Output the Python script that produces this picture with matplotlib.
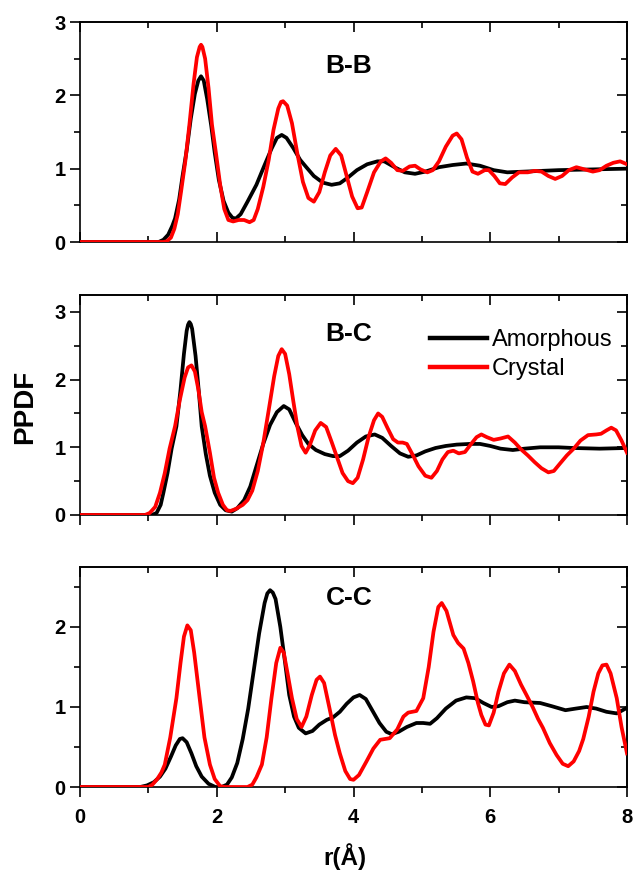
import matplotlib

matplotlib.use("Agg")
import matplotlib.pyplot as plt
from matplotlib.ticker import MultipleLocator, NullFormatter


# values, r in Angstrom
BB_AMORPH_R = [0, 1.0, 1.15, 1.22, 1.29, 1.35, 1.39, 1.45, 1.50, 1.56, 1.62, 1.68, 1.73, 1.77, 1.81,
               1.86, 1.92, 1.97, 2.03, 2.10, 2.17, 2.23, 2.28, 2.35, 2.45, 2.58, 2.70, 2.80, 2.88,
               2.95, 3.02, 3.12, 3.22, 3.31, 3.42, 3.55, 3.68, 3.80, 3.92, 4.05, 4.20, 4.35, 4.45,
               4.60, 4.75, 4.90, 5.05, 5.25, 5.45, 5.65, 5.85, 6.05, 6.25, 6.5, 7.0, 7.5, 8.0]
BB_AMORPH_G = [0, 0, 0, 0.03, 0.10, 0.22, 0.32, 0.58, 0.90, 1.25, 1.68, 2.02, 2.20, 2.26, 2.20,
               1.95, 1.58, 1.22, 0.85, 0.56, 0.40, 0.33, 0.32, 0.38, 0.55, 0.78, 1.05, 1.27, 1.42,
               1.46, 1.42, 1.28, 1.12, 1.02, 0.90, 0.81, 0.78, 0.80, 0.88, 0.98, 1.06, 1.10, 1.10,
               1.02, 0.95, 0.93, 0.96, 1.02, 1.05, 1.07, 1.04, 0.98, 0.95, 0.96, 0.98, 0.99, 1.0]

BB_CRYST_R = [0, 1.22, 1.27, 1.33, 1.38, 1.43, 1.48, 1.54, 1.60, 1.66, 1.71, 1.75, 1.77, 1.79, 1.83,
              1.88, 1.93, 1.99, 2.05, 2.11, 2.17, 2.24, 2.32, 2.40, 2.48, 2.54, 2.60, 2.68, 2.76,
              2.83, 2.90, 2.94, 2.97, 3.03, 3.10, 3.18, 3.26, 3.34, 3.42, 3.50, 3.58, 3.66, 3.74,
              3.82, 3.90, 3.98, 4.06, 4.12, 4.20, 4.30, 4.40, 4.47, 4.55, 4.64, 4.72, 4.82, 4.90,
              4.98, 5.08, 5.16, 5.25, 5.35, 5.45, 5.51, 5.58, 5.66, 5.74, 5.82, 5.92, 5.98, 6.06,
              6.14, 6.22, 6.32, 6.42, 6.55, 6.65, 6.75, 6.85, 6.95, 7.05, 7.15, 7.26, 7.38, 7.50,
              7.60, 7.70, 7.80, 7.90, 8.0]
BB_CRYST_G = [0, 0, 0.01, 0.06, 0.18, 0.38, 0.70, 1.10, 1.60, 2.15, 2.52, 2.66, 2.69, 2.66, 2.50,
              2.10, 1.60, 1.20, 0.78, 0.45, 0.30, 0.28, 0.30, 0.30, 0.27, 0.30, 0.45, 0.75, 1.12,
              1.53, 1.82, 1.91, 1.92, 1.86, 1.62, 1.20, 0.82, 0.60, 0.55, 0.68, 0.95, 1.18, 1.27,
              1.18, 0.90, 0.62, 0.46, 0.47, 0.68, 0.95, 1.10, 1.14, 1.08, 0.98, 0.97, 1.03, 1.04,
              0.99, 0.95, 0.98, 1.10, 1.30, 1.45, 1.48, 1.40, 1.15, 0.96, 0.93, 0.98, 0.98, 0.90,
              0.80, 0.79, 0.88, 0.95, 0.95, 0.97, 0.96, 0.90, 0.86, 0.90, 0.98, 1.02, 0.99, 0.96,
              0.98, 1.04, 1.08, 1.10, 1.06]

BC_AMORPH_R = [0, 1.05, 1.12, 1.18, 1.22, 1.28, 1.34, 1.41, 1.47, 1.52, 1.56, 1.58, 1.60, 1.62,
               1.64, 1.69, 1.74, 1.78, 1.84, 1.90, 1.97, 2.05, 2.13, 2.22, 2.30, 2.40, 2.49, 2.58,
               2.68, 2.78, 2.88, 2.98, 3.06, 3.16, 3.25, 3.34, 3.45, 3.58, 3.70, 3.80, 3.92, 4.05,
               4.18, 4.31, 4.42, 4.55, 4.68, 4.80, 4.92, 5.05, 5.20, 5.35, 5.51, 5.70, 5.85, 6.00,
               6.15, 6.33, 6.50, 6.73, 7.00, 7.21, 7.60, 8.00]
BC_AMORPH_G = [0, 0, 0.03, 0.15, 0.33, 0.62, 0.98, 1.31, 1.85, 2.38, 2.72, 2.81, 2.85, 2.82,
               2.75, 2.35, 1.80, 1.31, 0.90, 0.58, 0.33, 0.15, 0.07, 0.05, 0.10, 0.22, 0.42, 0.72,
               1.05, 1.33, 1.52, 1.61, 1.56, 1.35, 1.18, 1.05, 0.96, 0.90, 0.87, 0.87, 0.95, 1.07,
               1.16, 1.19, 1.14, 1.02, 0.91, 0.86, 0.88, 0.94, 0.99, 1.02, 1.04, 1.05, 1.05, 1.02,
               0.98, 0.96, 0.98, 1.00, 1.00, 0.99, 0.98, 0.99]

BC_CRYST_R = [0, 0.95, 1.02, 1.10, 1.17, 1.24, 1.31, 1.39, 1.46, 1.53, 1.58, 1.63, 1.68, 1.73,
              1.78, 1.83, 1.90, 1.96, 2.02, 2.09, 2.15, 2.20, 2.28, 2.38, 2.45, 2.52, 2.60, 2.68,
              2.76, 2.84, 2.90, 2.95, 3.00, 3.06, 3.12, 3.18, 3.24, 3.30, 3.36, 3.44, 3.52, 3.60,
              3.68, 3.76, 3.84, 3.92, 3.99, 4.06, 4.14, 4.22, 4.30, 4.36, 4.42, 4.50, 4.58, 4.65,
              4.72, 4.78, 4.86, 4.95, 5.05, 5.14, 5.22, 5.30, 5.38, 5.46, 5.54, 5.63, 5.72, 5.80,
              5.87, 5.95, 6.05, 6.15, 6.26, 6.36, 6.45, 6.55, 6.65, 6.75, 6.85, 6.93, 7.02, 7.12,
              7.22, 7.32, 7.43, 7.55, 7.62, 7.70, 7.77, 7.84, 7.92, 8.00]
BC_CRYST_G = [0, 0, 0.03, 0.12, 0.33, 0.62, 0.98, 1.31, 1.70, 2.03, 2.18, 2.21, 2.12, 1.86,
              1.52, 1.31, 0.92, 0.55, 0.33, 0.15, 0.07, 0.06, 0.09, 0.15, 0.22, 0.36, 0.65, 1.06,
              1.55, 2.05, 2.35, 2.45, 2.38, 2.08, 1.68, 1.30, 1.02, 0.92, 1.03, 1.25, 1.36, 1.30,
              1.08, 0.85, 0.62, 0.50, 0.47, 0.55, 0.82, 1.15, 1.40, 1.50, 1.45, 1.28, 1.12, 1.07,
              1.07, 1.05, 0.90, 0.72, 0.58, 0.55, 0.65, 0.82, 0.93, 0.95, 0.91, 0.93, 1.05, 1.15,
              1.19, 1.15, 1.11, 1.13, 1.16, 1.07, 0.97, 0.88, 0.78, 0.69, 0.63, 0.65, 0.76, 0.88,
              0.98, 1.10, 1.18, 1.19, 1.20, 1.25, 1.29, 1.25, 1.10, 0.92]

CC_AMORPH_R = [0, 0.88, 0.98, 1.08, 1.17, 1.25, 1.33, 1.40, 1.46, 1.50, 1.56, 1.63, 1.70, 1.78,
               1.88, 1.98, 2.07, 2.15, 2.22, 2.30, 2.38, 2.46, 2.54, 2.62, 2.70, 2.74, 2.78, 2.82,
               2.86, 2.93, 3.00, 3.06, 3.13, 3.20, 3.30, 3.40, 3.50, 3.61, 3.70, 3.80, 3.90, 4.00,
               4.09, 4.18, 4.28, 4.38, 4.48, 4.56, 4.66, 4.78, 4.92, 5.02, 5.12, 5.22, 5.35, 5.50,
               5.65, 5.78, 5.90, 6.02, 6.12, 6.25, 6.36, 6.50, 6.73, 6.90, 7.10, 7.25, 7.41, 7.55,
               7.70, 7.85, 8.00]
CC_AMORPH_G = [0, 0, 0.02, 0.06, 0.13, 0.23, 0.38, 0.52, 0.60, 0.61, 0.56, 0.42, 0.26, 0.13,
               0.04, 0.0, 0.0, 0.03, 0.12, 0.30, 0.60, 0.98, 1.45, 1.92, 2.30, 2.42, 2.46, 2.43,
               2.35, 2.00, 1.55, 1.15, 0.88, 0.74, 0.67, 0.70, 0.78, 0.84, 0.87, 0.94, 1.04, 1.12,
               1.15, 1.10, 0.95, 0.80, 0.69, 0.66, 0.69, 0.75, 0.80, 0.80, 0.79, 0.86, 0.98, 1.08,
               1.12, 1.11, 1.05, 1.00, 1.01, 1.06, 1.08, 1.06, 1.05, 1.01, 0.96, 0.98, 1.00, 0.98,
               0.94, 0.92, 0.99]

CC_CRYST_R = [0, 1.00, 1.06, 1.13, 1.19, 1.24, 1.32, 1.41, 1.47, 1.52, 1.57, 1.62, 1.67, 1.75,
              1.82, 1.90, 1.97, 2.05, 2.12, 2.45, 2.52, 2.58, 2.66, 2.73, 2.80, 2.87, 2.93, 2.98,
              3.04, 3.10, 3.17, 3.24, 3.31, 3.39, 3.46, 3.51, 3.57, 3.65, 3.73, 3.80, 3.88, 3.95,
              4.00, 4.08, 4.19, 4.29, 4.39, 4.53, 4.64, 4.73, 4.80, 4.92, 5.02, 5.10, 5.17, 5.24,
              5.29, 5.36, 5.46, 5.53, 5.61, 5.68, 5.75, 5.82, 5.87, 5.93, 5.98, 6.05, 6.12, 6.20,
              6.28, 6.36, 6.45, 6.53, 6.62, 6.70, 6.77, 6.87, 6.97, 7.06, 7.14, 7.22, 7.30, 7.36,
              7.44, 7.51, 7.58, 7.64, 7.70, 7.76, 7.85, 7.92, 8.00]
CC_CRYST_G = [0, 0, 0.03, 0.10, 0.18, 0.28, 0.62, 1.11, 1.55, 1.88, 2.02, 1.96, 1.68, 1.11,
              0.62, 0.28, 0.10, 0.01, 0.0, 0.0, 0.03, 0.12, 0.28, 0.62, 1.11, 1.55, 1.74, 1.68,
              1.40, 1.11, 0.85, 0.75, 0.88, 1.15, 1.34, 1.38, 1.30, 0.98, 0.65, 0.42, 0.20, 0.10,
              0.09, 0.15, 0.32, 0.48, 0.59, 0.61, 0.72, 0.88, 0.93, 0.95, 1.11, 1.50, 1.94, 2.25,
              2.30, 2.20, 1.90, 1.80, 1.73, 1.55, 1.32, 1.05, 0.90, 0.78, 0.77, 0.93, 1.19, 1.42,
              1.53, 1.45, 1.28, 1.15, 1.00, 0.85, 0.74, 0.55, 0.40, 0.29, 0.26, 0.32, 0.45, 0.60,
              0.88, 1.19, 1.42, 1.52, 1.53, 1.42, 1.11, 0.75, 0.42]

PANEL_NAMES = ["B-B", "B-C", "C-C"]
PANEL_YMAX = [3.0, 3.25, 2.75]
SERIES_LABELS = ["Amorphous", "Crystal"]

FIG_W, FIG_H = 636, 871
AX_LEFT, AX_RIGHT = 80, 627
AX_BOTTOMS = [242, 515, 787]
AX_HEIGHT = 220
NAME_BASELINE = [0.768, 0.79, 0.827]

plt.rcParams["font.family"] = ["Liberation Sans", "DejaVu Sans"]


def style_axes(ax, ymax, show_xlabels, bottom_dir):
    ax.set_xlim(0, 8)
    ax.set_ylim(0, ymax)
    for spine in ax.spines.values():
        spine.set_linewidth(1.2)
    ax.xaxis.set_major_locator(MultipleLocator(2))
    ax.xaxis.set_minor_locator(MultipleLocator(1))
    ax.yaxis.set_major_locator(MultipleLocator(1))
    ax.yaxis.set_minor_locator(MultipleLocator(0.5))
    ax.tick_params(axis="x", which="both", direction=bottom_dir, width=1.2, pad=7.5)
    ax.tick_params(axis="y", which="both", direction="out", width=1.2, pad=3)
    ax.tick_params(which="major", length=7.5)
    ax.tick_params(which="minor", length=4.5)
    ax.tick_params(labelsize=14.5)
    for lab in ax.get_xticklabels() + ax.get_yticklabels():
        lab.set_fontweight("bold")
    if not show_xlabels:
        ax.xaxis.set_major_formatter(NullFormatter())

    # mirrored ticks on top and right point inward
    top = ax.secondary_xaxis("top")
    top.xaxis.set_major_locator(MultipleLocator(2))
    top.xaxis.set_minor_locator(MultipleLocator(1))
    top.tick_params(which="both", direction="in", width=1.2, labeltop=False)
    top.tick_params(which="major", length=7)
    top.tick_params(which="minor", length=4.5)
    top.spines["top"].set_linewidth(1.2)
    right = ax.secondary_yaxis("right")
    right.yaxis.set_major_locator(MultipleLocator(1))
    right.yaxis.set_minor_locator(MultipleLocator(0.5))
    right.tick_params(which="both", direction="in", width=1.2, labelright=False)
    right.tick_params(which="major", length=7)
    right.tick_params(which="minor", length=4.5)
    right.spines["right"].set_linewidth(1.2)


def main() -> None:
    fig = plt.figure(figsize=(FIG_W / 100, FIG_H / 100), dpi=100)
    series = [
        (BB_AMORPH_R, BB_AMORPH_G, BB_CRYST_R, BB_CRYST_G),
        (BC_AMORPH_R, BC_AMORPH_G, BC_CRYST_R, BC_CRYST_G),
        (CC_AMORPH_R, CC_AMORPH_G, CC_CRYST_R, CC_CRYST_G),
    ]
    for i, (ra, ga, rc, gc) in enumerate(series):
        bottom = 1 - AX_BOTTOMS[i] / FIG_H
        ax = fig.add_axes([AX_LEFT / FIG_W, bottom, (AX_RIGHT - AX_LEFT) / FIG_W, AX_HEIGHT / FIG_H])
        ax.plot(ra, ga, color="black", linewidth=2.7, solid_joinstyle="round",
                label=SERIES_LABELS[0], zorder=2)
        ax.plot(rc, gc, color="#ff0000", linewidth=2.7, solid_joinstyle="round",
                label=SERIES_LABELS[1], zorder=3)
        style_axes(ax, PANEL_YMAX[i], show_xlabels=(i == 2), bottom_dir="in" if i == 0 else "out")
        ax.text(0.492, NAME_BASELINE[i], PANEL_NAMES[i], transform=ax.transAxes,
                ha="center", va="baseline", fontsize=19, fontweight="bold")
        if i == 1:
            leg = ax.legend(loc="upper left", bbox_to_anchor=(0.64, 0.845), frameon=False,
                            fontsize=17, handlelength=2.4, handletextpad=0.2,
                            labelspacing=0.3, borderpad=0, borderaxespad=0)
            for line in leg.get_lines():
                line.set_linewidth(3.2)

    fig.text(25 / FIG_W, 1 - 407 / FIG_H, "PPDF", rotation=90, ha="center", va="center",
             fontsize=20, fontweight="bold")
    fig.text(345 / FIG_W, 1 - 857 / FIG_H, "r(Å)", ha="center", va="center",
             fontsize=17.5, fontweight="bold")
    fig.savefig("out.png", dpi=100)
    plt.close(fig)


if __name__ == "__main__":
    main()
